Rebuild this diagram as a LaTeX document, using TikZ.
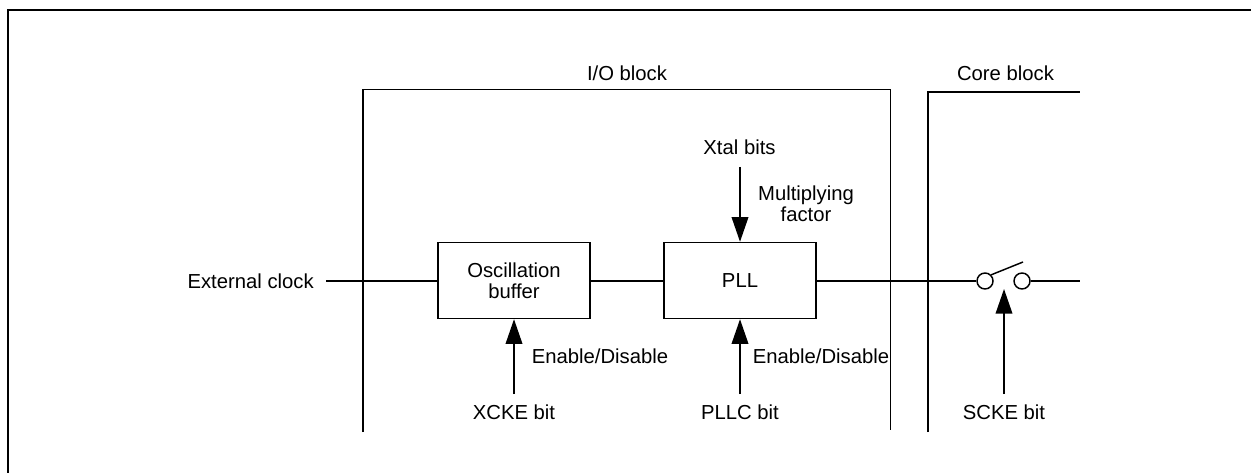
\documentclass[tikz,border=0pt]{standalone}
\usepackage{fontspec}
\setmainfont{Liberation Sans}
\usetikzlibrary{arrows.meta}
\tikzset{
  wire/.style={line width=1.1pt,black},
  frameline/.style={line width=1.65pt,black},
  blockbox/.style={draw,line width=1.1pt,fill=white,inner sep=0pt,align=center,font=\fontsize{15.2pt}{15.6pt}\selectfont},
  lbl/.style={inner sep=0pt,align=center,font=\fontsize{15.2pt}{15.6pt}\selectfont},
  ctrl/.style={wire,-{Triangle[length=18.5pt,width=12.5pt]}},
  pin/.style={circle,draw,line width=1.1pt,fill=white,minimum size=12pt,inner sep=0pt}
}
\begin{document}
\begin{tikzpicture}[x=0.75pt,y=-0.75pt]
\useasboundingbox (0,0) rectangle (1251,473);
\draw[frameline] (8,473) -- (8,10) -- (1251,10);
% block outlines
\draw[wire] (363,432) -- (363,89.5) -- (890.5,89.5) -- (890.5,430);
\draw[wire] (928,432) -- (928,92) -- (1080,92);
\node[lbl] at (627,73) {I/O block};
\node[lbl] at (1005.5,73) {Core block};
% nodes
\node[lbl,anchor=east] (ext) at (314,281) {External clock};
\node[blockbox,minimum width=114pt,minimum height=57pt] (osc) at (514,280.5) {Oscillation\\buffer};
\node[blockbox,minimum width=114pt,minimum height=57pt] (pll) at (740,280.5) {PLL};
\node[pin] (p1) at (985,281) {};
\node[pin] (p2) at (1022,281) {};
\coordinate (swtip) at (1023,262);
\coordinate (out) at (1080,281);
\coordinate (extw) at (326,281);
\node[lbl] (xtal) at (739.5,147.5) {Xtal bits};
\node[lbl] (xcke) at (514,412) {XCKE bit};
\node[lbl] (pllc) at (740,412) {PLLC bit};
\node[lbl] (scke) at (1004,412) {SCKE bit};
\node[lbl] at (806,204) {Multiplying\\factor};
\node[lbl] at (600,356) {Enable/Disable};
\node[lbl] at (821,356) {Enable/Disable};
\coordinate (xc) at (514,394);
\coordinate (pc) at (740,394);
\coordinate (sc) at (1004,394);
\coordinate (st) at (1004,289);
\coordinate (xt) at (740,167);
% connectors
\draw[wire] (extw) -- (osc.west |- extw);
\draw[wire] (osc.east |- extw) -- (pll.west |- extw);
\draw[wire] (pll.east |- extw) -- (p1.west);
\draw[wire] (p2.east) -- (out);
\draw[wire] (p1.north east) -- (swtip);
\draw[ctrl] (xt) -- (pll.north);
\draw[ctrl] (xc) -- (osc.south);
\draw[ctrl] (pc) -- (pll.south);
\draw[ctrl] (sc) -- (st);
\end{tikzpicture}
\end{document}
